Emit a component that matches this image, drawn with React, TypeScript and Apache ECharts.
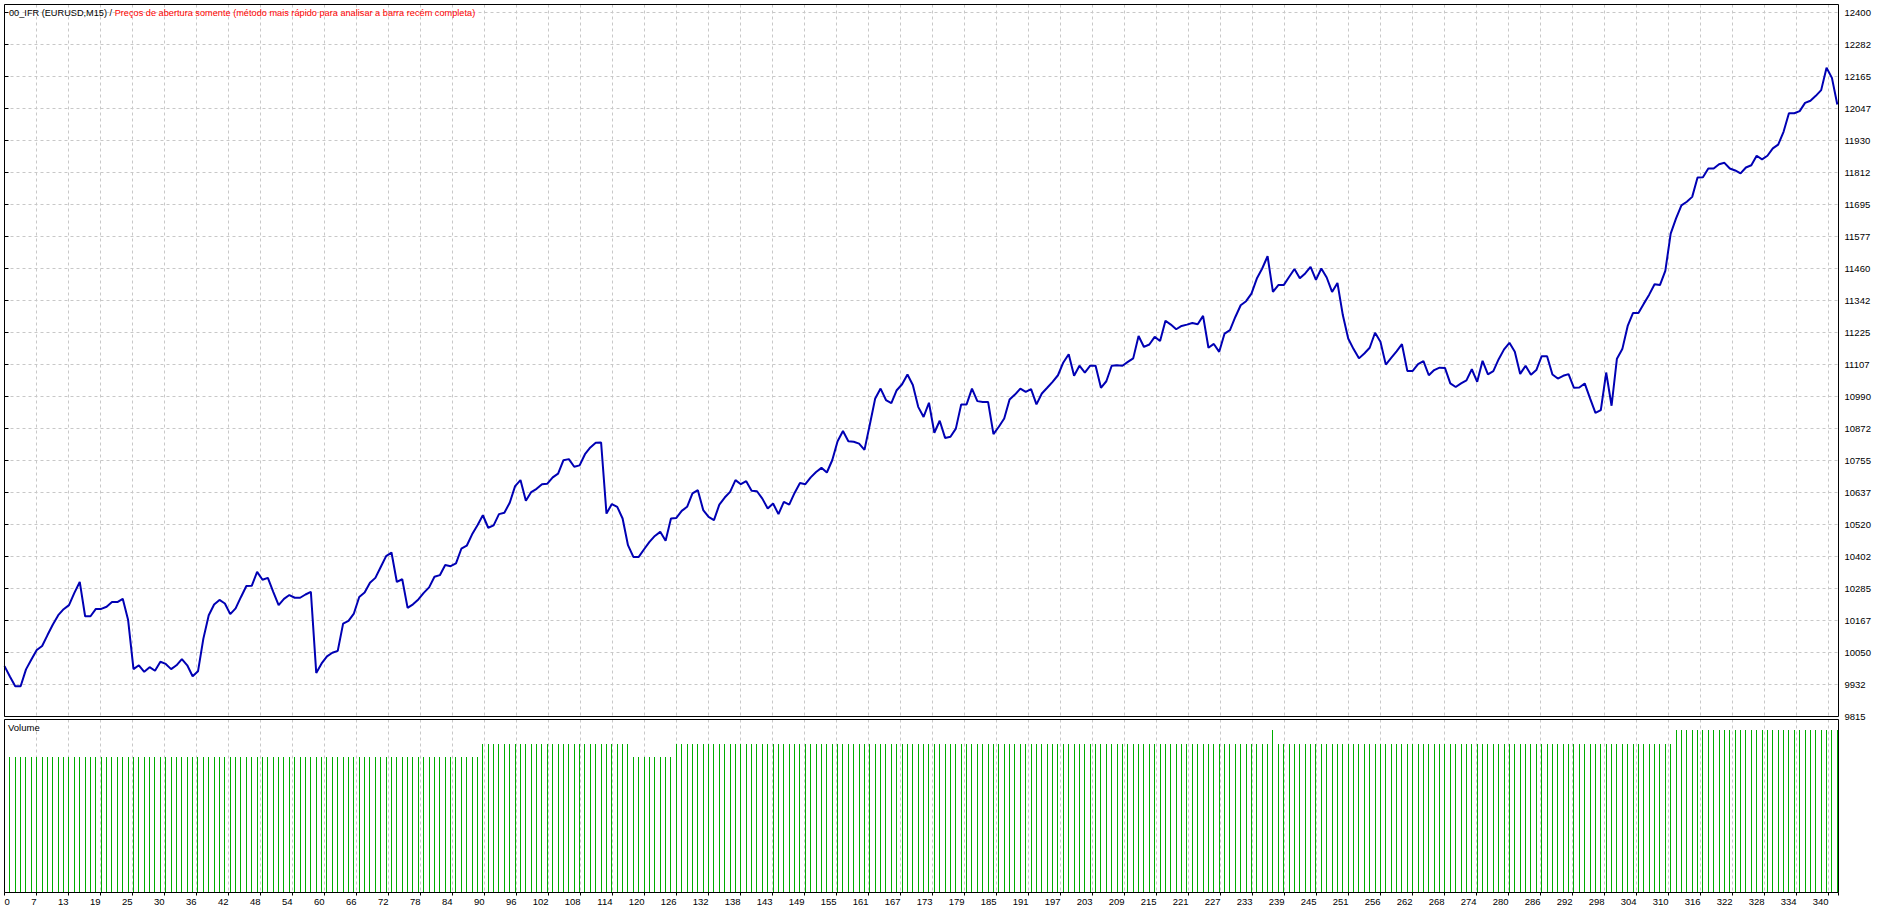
import React, { useEffect, useRef } from "react";
import * as echarts from "echarts";

// Balance after each trade (trade 0 = initial deposit)
const BALANCE: number[] = [
  10000, 9962, 9926, 9926, 9988, 10024, 10059, 10074, 10114, 10153,
  10187, 10209, 10224, 10269, 10309, 10183, 10183, 10210, 10210, 10218,
  10235, 10235, 10247, 10169, 9989, 10003, 9979, 9996, 9983, 10016,
  10008, 9989, 10003, 10026, 10003, 9963, 9981, 10101, 10187, 10226,
  10243, 10230, 10191, 10212, 10254, 10294, 10295, 10346, 10317, 10324,
  10273, 10224, 10247, 10261, 10251, 10251, 10263, 10273, 9975, 10010,
  10036, 10049, 10056, 10156, 10166, 10193, 10254, 10270, 10306, 10324,
  10364, 10404, 10417, 10309, 10319, 10214, 10227, 10245, 10269, 10289,
  10328, 10334, 10371, 10367, 10377, 10431, 10442, 10484, 10517, 10554,
  10508, 10517, 10558, 10563, 10600, 10661, 10683, 10607, 10639, 10651,
  10668, 10670, 10693, 10707, 10756, 10760, 10732, 10737, 10778, 10803,
  10820, 10821, 10560, 10595, 10585, 10542, 10444, 10401, 10401, 10429,
  10456, 10478, 10493, 10460, 10542, 10544, 10570, 10585, 10634, 10646,
  10573, 10548, 10536, 10593, 10619, 10640, 10683, 10668, 10679, 10644,
  10642, 10615, 10579, 10597, 10558, 10603, 10593, 10636, 10672, 10668,
  10693, 10713, 10728, 10711, 10756, 10826, 10863, 10826, 10824, 10817,
  10794, 10887, 10983, 11019, 10977, 10966, 11013, 11035, 11071, 11032,
  10952, 10915, 10967, 10857, 10901, 10838, 10842, 10872, 10961, 10961,
  11019, 10973, 10970, 10970, 10852, 10879, 10909, 10979, 10997, 11019,
  11007, 11017, 10961, 11001, 11022, 11044, 11068, 11115, 11145, 11066,
  11103, 11078, 11103, 11103, 11022, 11046, 11103, 11105, 11103, 11117,
  11130, 11212, 11172, 11181, 11209, 11194, 11268, 11254, 11237, 11249,
  11254, 11260, 11255, 11286, 11169, 11183, 11154, 11221, 11234, 11282,
  11325, 11340, 11368, 11423, 11460, 11505, 11374, 11399, 11399, 11429,
  11458, 11424, 11442, 11466, 11418, 11460, 11427, 11374, 11407, 11289,
  11203, 11164, 11130, 11148, 11169, 11224, 11191, 11107, 11132, 11156,
  11182, 11084, 11084, 11109, 11120, 11068, 11087, 11096, 11095, 11038,
  11025, 11038, 11049, 11090, 11044, 11121, 11071, 11083, 11127, 11163,
  11187, 11154, 11073, 11103, 11070, 11087, 11138, 11138, 11071, 11056,
  11066, 11072, 11022, 11023, 11038, 10983, 10930, 10940, 11078, 10956,
  11129, 11164, 11249, 11297, 11297, 11331, 11364, 11402, 11399, 11451,
  11588, 11644, 11692, 11705, 11723, 11794, 11795, 11827, 11827, 11843,
  11848, 11827, 11820, 11809, 11831, 11839, 11874, 11861, 11874, 11901,
  11915, 11962, 12030, 12030, 12038, 12068, 12076, 12094, 12115, 12197,
  12160, 12062,
];

// Lot size of trades 1..341
const VOLUME: number[] = [
  // trades 1-88
  0.1, 0.1, 0.1, 0.1, 0.1, 0.1, 0.1, 0.1, 0.1, 0.1,
  0.1, 0.1, 0.1, 0.1, 0.1, 0.1, 0.1, 0.1, 0.1, 0.1,
  0.1, 0.1, 0.1, 0.1, 0.1, 0.1, 0.1, 0.1, 0.1, 0.1,
  0.1, 0.1, 0.1, 0.1, 0.1, 0.1, 0.1, 0.1, 0.1, 0.1,
  0.1, 0.1, 0.1, 0.1, 0.1, 0.1, 0.1, 0.1, 0.1, 0.1,
  0.1, 0.1, 0.1, 0.1, 0.1, 0.1, 0.1, 0.1, 0.1, 0.1,
  0.1, 0.1, 0.1, 0.1, 0.1, 0.1, 0.1, 0.1, 0.1, 0.1,
  0.1, 0.1, 0.1, 0.1, 0.1, 0.1, 0.1, 0.1, 0.1, 0.1,
  0.1, 0.1, 0.1, 0.1, 0.1, 0.1, 0.1, 0.1,
  // trades 89-116
  0.11, 0.11, 0.11, 0.11, 0.11, 0.11, 0.11, 0.11, 0.11, 0.11,
  0.11, 0.11, 0.11, 0.11, 0.11, 0.11, 0.11, 0.11, 0.11, 0.11,
  0.11, 0.11, 0.11, 0.11, 0.11, 0.11, 0.11, 0.11,
  // trades 117-124
  0.1, 0.1, 0.1, 0.1, 0.1, 0.1, 0.1, 0.1,
  // trades 125-235
  0.11, 0.11, 0.11, 0.11, 0.11, 0.11, 0.11, 0.11, 0.11, 0.11,
  0.11, 0.11, 0.11, 0.11, 0.11, 0.11, 0.11, 0.11, 0.11, 0.11,
  0.11, 0.11, 0.11, 0.11, 0.11, 0.11, 0.11, 0.11, 0.11, 0.11,
  0.11, 0.11, 0.11, 0.11, 0.11, 0.11, 0.11, 0.11, 0.11, 0.11,
  0.11, 0.11, 0.11, 0.11, 0.11, 0.11, 0.11, 0.11, 0.11, 0.11,
  0.11, 0.11, 0.11, 0.11, 0.11, 0.11, 0.11, 0.11, 0.11, 0.11,
  0.11, 0.11, 0.11, 0.11, 0.11, 0.11, 0.11, 0.11, 0.11, 0.11,
  0.11, 0.11, 0.11, 0.11, 0.11, 0.11, 0.11, 0.11, 0.11, 0.11,
  0.11, 0.11, 0.11, 0.11, 0.11, 0.11, 0.11, 0.11, 0.11, 0.11,
  0.11, 0.11, 0.11, 0.11, 0.11, 0.11, 0.11, 0.11, 0.11, 0.11,
  0.11, 0.11, 0.11, 0.11, 0.11, 0.11, 0.11, 0.11, 0.11, 0.11,
  0.11,
  // trade 236
  0.12,
  // trades 237-310
  0.11, 0.11, 0.11, 0.11, 0.11, 0.11, 0.11, 0.11, 0.11, 0.11,
  0.11, 0.11, 0.11, 0.11, 0.11, 0.11, 0.11, 0.11, 0.11, 0.11,
  0.11, 0.11, 0.11, 0.11, 0.11, 0.11, 0.11, 0.11, 0.11, 0.11,
  0.11, 0.11, 0.11, 0.11, 0.11, 0.11, 0.11, 0.11, 0.11, 0.11,
  0.11, 0.11, 0.11, 0.11, 0.11, 0.11, 0.11, 0.11, 0.11, 0.11,
  0.11, 0.11, 0.11, 0.11, 0.11, 0.11, 0.11, 0.11, 0.11, 0.11,
  0.11, 0.11, 0.11, 0.11, 0.11, 0.11, 0.11, 0.11, 0.11, 0.11,
  0.11, 0.11, 0.11, 0.11,
  // trades 311-341
  0.12, 0.12, 0.12, 0.12, 0.12, 0.12, 0.12, 0.12, 0.12, 0.12,
  0.12, 0.12, 0.12, 0.12, 0.12, 0.12, 0.12, 0.12, 0.12, 0.12,
  0.12, 0.12, 0.12, 0.12, 0.12, 0.12, 0.12, 0.12, 0.12, 0.12,
  0.12,
];

const X_LABELS: string[] = [
  "0", "7", "13", "19", "25", "30", "36", "42", "48", "54", "60", "66", "72", "78", "84",
  "90", "96", "102", "108", "114", "120", "126", "132", "138", "143", "149", "155", "161",
  "167", "173", "179", "185", "191", "197", "203", "209", "215", "221", "227", "233", "239",
  "245", "251", "256", "262", "268", "274", "280", "286", "292", "298", "304", "310", "316",
  "322", "328", "334", "340",
];

const Y_LABELS: string[] = [
  "9815", "9932", "10050", "10167", "10285", "10402", "10520", "10637", "10755", "10872",
  "10990", "11107", "11225", "11342", "11460", "11577", "11695", "11812", "11930", "12047",
  "12165", "12282", "12400",
];
const Y_MIN = 9815;
const Y_STEP = 117.5;

const TITLE_SYMBOL = "00_IFR (EURUSD,M15)";
const TITLE_MODE = "Preços de abertura somente (método mais rápido para analisar a barra recém completa)";
const VOLUME_NAME = "Volume";

const FONT = "'Liberation Sans', Arial, sans-serif";
const FS = 9.5;
const TITLE_FS = 9.2;

export default function App() {
  const ref = useRef<HTMLDivElement>(null);

  useEffect(() => {
    const el = ref.current;
    if (!el) return;
    const chart = echarts.init(el, null, { renderer: "svg" });

    const L = 4.5;
    const PW = 1834; // plot width
    const MAIN_TOP = 4.5;
    const MAIN_H = 712;
    const VOL_TOP = 719.5;
    const VOL_H = 173;
    const GRID_PX = 32;
    const pxPerValue = GRID_PX / Y_STEP;
    const yMax = Y_MIN + MAIN_H / pxPerValue;
    const lastX = 1837.3;
    const pxPerTrade = (lastX - L) / (BALANCE.length - 1);
    const xMax = PW / pxPerTrade;
    const gridMax = PW / GRID_PX;

    const dash = { color: "#c8c8c8", type: [3, 3] as any, width: 1 };
    const isInt = (v: number) => Math.abs(v - Math.round(v)) < 1e-6;

    const option: any = {
      animation: false,
      backgroundColor: "#ffffff",
      textStyle: { fontFamily: FONT, fontSize: FS },
      grid: [
        { left: L, top: MAIN_TOP, width: PW, height: MAIN_H, show: false, containLabel: false },
        { left: L, top: VOL_TOP, width: PW, height: VOL_H, show: false, containLabel: false },
      ],
      xAxis: [
        { type: "value", gridIndex: 0, min: 0, max: xMax, show: false },
        {
          type: "value", gridIndex: 0, min: 0, max: gridMax, interval: 1,
          axisLine: { show: false }, axisTick: { show: false }, axisLabel: { show: false },
          splitLine: { show: true, lineStyle: dash },
        },
        { type: "value", gridIndex: 1, min: 0, max: xMax, show: false },
        {
          type: "value", gridIndex: 1, min: 0, max: gridMax, interval: 1, position: "bottom",
          axisLine: { show: false },
          axisTick: { show: true, length: 3, lineStyle: { color: "#000" } },
          axisLabel: {
            show: true, margin: 4, color: "#000", fontFamily: FONT, fontSize: FS,
            align: "right", alignMinLabel: "left", showMaxLabel: true,
            formatter: (v: number) => (isInt(v) ? X_LABELS[Math.round(v)] ?? "" : ""),
          },
          splitLine: { show: true, lineStyle: dash },
        },
      ],
      yAxis: [
        {
          type: "value", gridIndex: 0, position: "right", min: Y_MIN, max: yMax, interval: Y_STEP,
          axisLine: { show: false },
          axisTick: { show: true, length: 4, lineStyle: { color: "#000" } },
          axisLabel: {
            show: true, margin: 6, color: "#000", fontFamily: FONT, fontSize: FS,
            showMaxLabel: false,
            formatter: (v: number) => {
              const k = (v - Y_MIN) / Y_STEP;
              return isInt(k) ? Y_LABELS[Math.round(k)] ?? "" : "";
            },
          },
          splitLine: { show: true, lineStyle: dash },
        },
        { type: "value", gridIndex: 1, min: 0, max: 0.128, show: false, splitLine: { show: false } },
      ],
      series: [
        {
          type: "line", xAxisIndex: 0, yAxisIndex: 0,
          data: BALANCE.map((v, i) => [i, v]),
          symbol: "none", silent: true,
          lineStyle: { color: "#0000b4", width: 2 },
          z: 5,
        },
        {
          type: "custom", xAxisIndex: 2, yAxisIndex: 1, silent: true,
          data: VOLUME.map((v, i) => [i + 1, v]),
          renderItem: (params: any, api: any) => {
            const x = api.value(0);
            const v = api.value(1);
            const top = api.coord([x, v]);
            const base = api.coord([x, 0]);
            const px = Math.floor(top[0]);
            const ty = Math.round(top[1]);
            return {
              type: "rect",
              shape: { x: px, y: ty, width: 1, height: base[1] - ty },
              style: { fill: "#00ad00" },
            };
          },
          z: 5,
        },
      ],
      graphic: [
        {
          type: "rect", silent: true, z: 100,
          shape: { x: L, y: MAIN_TOP, width: PW, height: MAIN_H },
          style: { fill: "none", stroke: "#000", lineWidth: 1 },
        },
        {
          type: "rect", silent: true, z: 100,
          shape: { x: L, y: VOL_TOP, width: PW, height: VOL_H },
          style: { fill: "none", stroke: "#000", lineWidth: 1 },
        },
        {
          type: "text", x: 9, y: 12.5, z: 101, silent: true,
          style: {
            text: `{k|${TITLE_SYMBOL} /} {r|${TITLE_MODE}}`,
            fontFamily: FONT, fontSize: TITLE_FS, fill: "#000",
            align: "left", verticalAlign: "middle",
            rich: {
              k: { fill: "#000000", fontFamily: FONT, fontSize: TITLE_FS },
              r: { fill: "#ff0000", fontFamily: FONT, fontSize: TITLE_FS },
            },
          },
        },
        {
          type: "text", x: 8, y: 727.5, z: 101, silent: true,
          style: {
            text: VOLUME_NAME, fill: "#000", fontFamily: FONT, fontSize: FS,
            align: "left", verticalAlign: "middle",
          },
        },
      ],
    };

    chart.setOption(option);
    return () => chart.dispose();
  }, []);

  return (
    <div
      ref={ref}
      style={{ position: "absolute", left: 0, top: 0, width: 1884, height: 912, background: "#fff" }}
    />
  );
}
